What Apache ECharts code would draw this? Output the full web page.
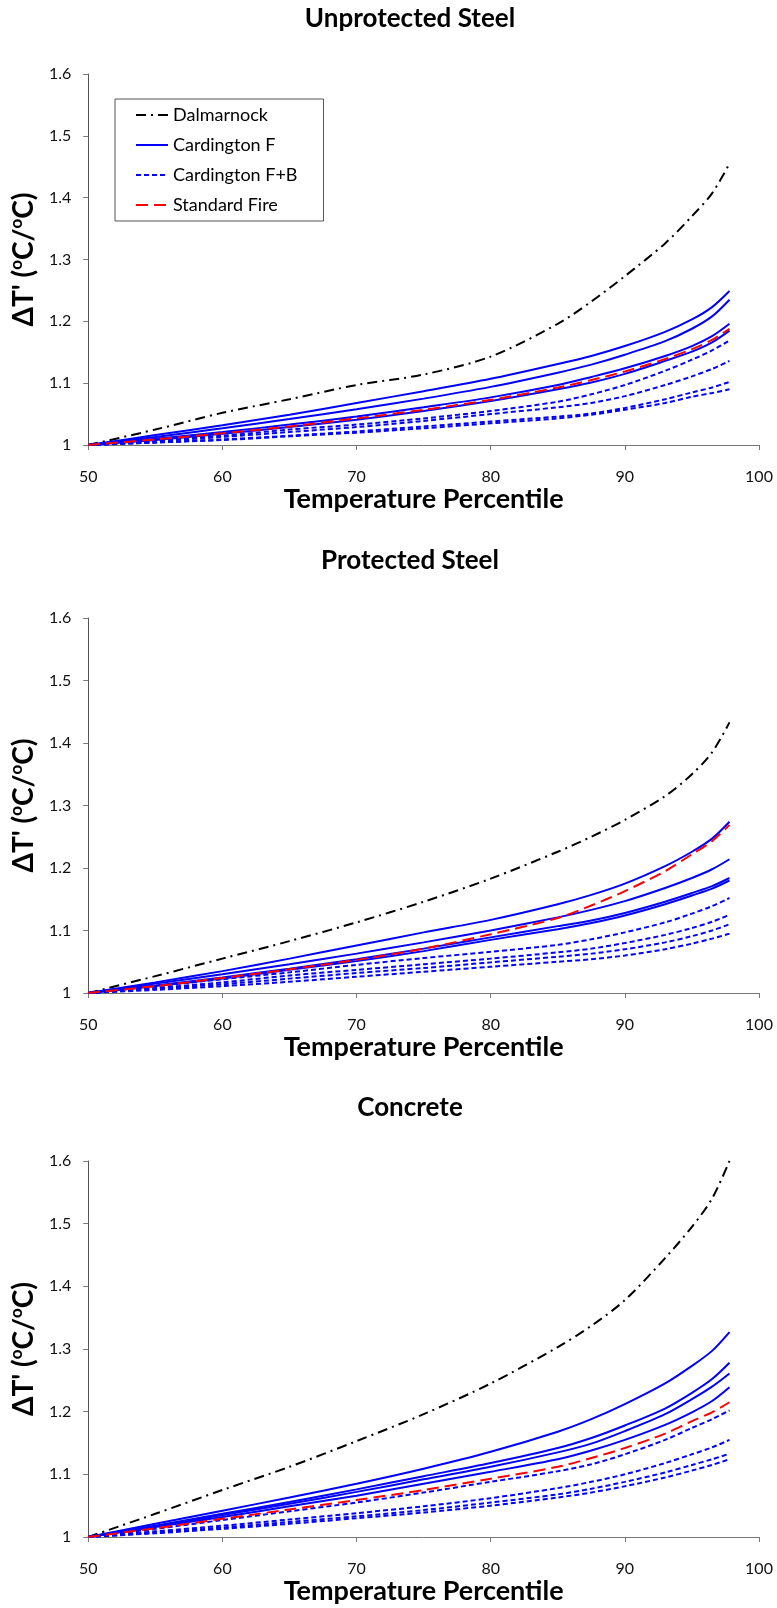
<!DOCTYPE html>
<html>
<head>
<meta charset="utf-8">
<script src="https://cdn.jsdelivr.net/npm/echarts@6/dist/echarts.min.js"></script>
<style>
html, body { margin: 0; padding: 0; background: #fff; }
#chart { width: 777px; height: 1608px; }
</style>
</head>
<body>
<div id="chart"></div>
<script>
// percentile positions shared by every curve
const xPct = [50, 55, 60, 65, 70, 75, 80, 85, 87.5, 90, 93, 95, 96.5, 97.8];

// Unprotected steel
const us_dal = [1, 1.025, 1.052, 1.074, 1.097, 1.114, 1.143, 1.196, 1.232, 1.273, 1.326, 1.370, 1.407, 1.455];
const us_cf1 = [1, 1.016, 1.032, 1.049, 1.068, 1.087, 1.107, 1.131, 1.144, 1.160, 1.183, 1.203, 1.223, 1.249];
const us_cf2 = [1, 1.013, 1.027, 1.042, 1.058, 1.075, 1.094, 1.117, 1.130, 1.146, 1.168, 1.188, 1.208, 1.235];
const us_cf3 = [1, 1.010, 1.021, 1.033, 1.046, 1.061, 1.077, 1.097, 1.110, 1.124, 1.144, 1.160, 1.176, 1.196];
const us_cf4 = [1, 1.008, 1.018, 1.029, 1.041, 1.055, 1.071, 1.090, 1.101, 1.115, 1.136, 1.151, 1.166, 1.185];
const us_fb1 = [1, 1.007, 1.015, 1.025, 1.033, 1.043, 1.055, 1.070, 1.082, 1.097, 1.120, 1.138, 1.153, 1.169];
const us_fb2 = [1, 1.006, 1.013, 1.021, 1.029, 1.039, 1.050, 1.061, 1.068, 1.079, 1.097, 1.111, 1.123, 1.136];
const us_fb3 = [1, 1.004, 1.009, 1.015, 1.022, 1.030, 1.038, 1.046, 1.051, 1.060, 1.074, 1.085, 1.093, 1.102];
const us_fb4 = [1, 1.004, 1.008, 1.014, 1.020, 1.027, 1.035, 1.043, 1.049, 1.057, 1.068, 1.078, 1.084, 1.090];
const us_std = [1, 1.009, 1.019, 1.030, 1.043, 1.057, 1.073, 1.093, 1.105, 1.119, 1.139, 1.155, 1.170, 1.188];

// Protected steel
const ps_dal = [1, 1.027, 1.055, 1.083, 1.113, 1.146, 1.183, 1.226, 1.250, 1.277, 1.315, 1.350, 1.385, 1.433];
const ps_cf1 = [1, 1.017, 1.035, 1.055, 1.076, 1.097, 1.117, 1.142, 1.157, 1.175, 1.203, 1.226, 1.247, 1.274];
const ps_cf2 = [1, 1.015, 1.030, 1.046, 1.063, 1.081, 1.100, 1.121, 1.133, 1.147, 1.168, 1.184, 1.198, 1.214];
const ps_cf3 = [1, 1.012, 1.025, 1.039, 1.054, 1.071, 1.089, 1.107, 1.116, 1.128, 1.146, 1.160, 1.171, 1.184];
const ps_cf4 = [1, 1.011, 1.023, 1.037, 1.051, 1.067, 1.085, 1.102, 1.112, 1.124, 1.142, 1.156, 1.167, 1.180];
const ps_fb1 = [1, 1.011, 1.022, 1.033, 1.045, 1.056, 1.066, 1.077, 1.086, 1.097, 1.113, 1.127, 1.139, 1.152];
const ps_fb2 = [1, 1.008, 1.017, 1.028, 1.037, 1.046, 1.055, 1.065, 1.071, 1.080, 1.093, 1.104, 1.114, 1.125];
const ps_fb3 = [1, 1.007, 1.014, 1.023, 1.032, 1.040, 1.049, 1.058, 1.063, 1.070, 1.081, 1.091, 1.100, 1.110];
const ps_fb4 = [1, 1.005, 1.011, 1.018, 1.026, 1.034, 1.042, 1.050, 1.054, 1.060, 1.070, 1.079, 1.087, 1.095];
const ps_std = [1, 1.011, 1.024, 1.038, 1.053, 1.071, 1.094, 1.120, 1.140, 1.163, 1.195, 1.222, 1.243, 1.269];

// Concrete
const co_dal = [1, 1.037, 1.075, 1.112, 1.153, 1.196, 1.245, 1.303, 1.337, 1.378, 1.445, 1.495, 1.540, 1.600];
const co_cf1 = [1, 1.021, 1.042, 1.063, 1.085, 1.109, 1.136, 1.168, 1.188, 1.212, 1.245, 1.273, 1.297, 1.327];
const co_cf2 = [1, 1.018, 1.037, 1.056, 1.076, 1.097, 1.118, 1.142, 1.158, 1.178, 1.205, 1.230, 1.252, 1.278];
const co_cf3 = [1, 1.017, 1.035, 1.053, 1.072, 1.092, 1.112, 1.135, 1.149, 1.169, 1.196, 1.220, 1.240, 1.261];
const co_cf4 = [1, 1.016, 1.032, 1.049, 1.066, 1.085, 1.104, 1.124, 1.138, 1.155, 1.179, 1.199, 1.217, 1.239];
const co_fb1 = [1, 1.013, 1.027, 1.041, 1.055, 1.071, 1.088, 1.105, 1.116, 1.132, 1.155, 1.174, 1.188, 1.202];
const co_fb2 = [1, 1.009, 1.018, 1.028, 1.038, 1.049, 1.062, 1.078, 1.088, 1.100, 1.118, 1.132, 1.143, 1.155];
const co_fb3 = [1, 1.007, 1.015, 1.024, 1.033, 1.043, 1.055, 1.068, 1.077, 1.088, 1.103, 1.115, 1.124, 1.133];
const co_fb4 = [1, 1.006, 1.013, 1.021, 1.030, 1.039, 1.050, 1.063, 1.071, 1.081, 1.095, 1.106, 1.115, 1.124];
const co_std = [1, 1.014, 1.029, 1.044, 1.059, 1.075, 1.093, 1.112, 1.126, 1.142, 1.165, 1.185, 1.199, 1.215];

const chartTitles = ['Unprotected Steel', 'Protected Steel', 'Concrete'];
const legendNames = ['Dalmarnock', 'Cardington F', 'Cardington F+B', 'Standard Fire'];

const fam = 'Lato, "Open Sans", sans-serif';
const gridTops = [74, 618, 1161];
const gridHeights = [371, 375, 376];
const titleY = [19, 561, 1108];

function pts(arr) {
  return xPct.map((x, k) => [x, arr[k]]);
}

function line(idx, name, arr, color, type) {
  return {
    type: 'line',
    name: name,
    xAxisIndex: idx,
    yAxisIndex: idx,
    data: pts(arr),
    symbol: 'none',
    smooth: 0.3,
    lineStyle: { color: color, width: 2, type: type },
    itemStyle: { color: color },
  };
}

function group(idx, dal, cfs, fbs, std) {
  const out = [line(idx, legendNames[0], dal, '#000000', [10, 5, 2, 5])];
  cfs.forEach(a => out.push(line(idx, legendNames[1], a, '#0000ff', 'solid')));
  fbs.forEach(a => out.push(line(idx, legendNames[2], a, '#0000ff', [5, 3])));
  out.push(line(idx, legendNames[3], std, '#ff0000', [12, 6]));
  return out;
}

const series = [].concat(
  group(0, us_dal, [us_cf1, us_cf2, us_cf3, us_cf4], [us_fb1, us_fb2, us_fb3, us_fb4], us_std),
  group(1, ps_dal, [ps_cf1, ps_cf2, ps_cf3, ps_cf4], [ps_fb1, ps_fb2, ps_fb3, ps_fb4], ps_std),
  group(2, co_dal, [co_cf1, co_cf2, co_cf3, co_cf4], [co_fb1, co_fb2, co_fb3, co_fb4], co_std)
);

const grids = [], xAxes = [], yAxes = [];
[0, 1, 2].forEach(i => {
  grids.push({ left: 80, width: 679, top: gridTops[i], height: gridHeights[i] });
  xAxes.push({
    gridIndex: i,
    type: 'value',
    min: 50,
    max: 100,
    interval: 10,
    name: 'Temperature Percentile',
    nameLocation: 'middle',
    nameGap: 40,
    nameTextStyle: { fontSize: 27, fontWeight: 'bold', fontFamily: fam, color: '#000' },
    axisLine: { lineStyle: { color: '#777' } },
    axisTick: { length: 5, lineStyle: { color: '#777' } },
    axisLabel: { margin: 24, fontSize: 16, fontFamily: fam, color: '#111' },
    splitLine: { show: false },
  });
  yAxes.push({
    gridIndex: i,
    type: 'value',
    min: 1,
    max: 1.6,
    interval: 0.1,
    name: "{a|ΔT' (}{s|o}{a|C/}{s|o}{a|C)}",
    nameLocation: 'middle',
    nameGap: 40,
    nameTextStyle: {
      rich: {
        a: { fontSize: 28, fontWeight: 'bold', fontFamily: fam, color: '#000', lineHeight: 32 },
        s: { fontSize: 17, fontWeight: 'bold', fontFamily: fam, color: '#000', lineHeight: 18, verticalAlign: 'top' },
      },
    },
    axisLine: { show: true, lineStyle: { color: '#555' } },
    axisTick: { show: true, length: 5, lineStyle: { color: '#777' } },
    axisLabel: {
      margin: 17,
      fontSize: 16,
      fontFamily: fam,
      color: '#111',
      formatter: v => String(Math.round(v * 10) / 10),
    },
    splitLine: { show: false },
  });
});

const titles = chartTitles.map((t, i) => ({
  type: 'text',
  x: 410,
  y: titleY[i],
  style: {
    text: t,
    fontSize: 26,
    fontWeight: 'bold',
    fontFamily: fam,
    fill: '#000',
    align: 'center',
    verticalAlign: 'middle',
  },
}));

const chart = echarts.init(document.getElementById('chart'));
chart.setOption({
  animation: false,
  backgroundColor: '#fff',
  graphic: titles,
  legend: {
    data: legendNames,
    orient: 'vertical',
    left: 115,
    top: 99,
    itemWidth: 32,
    itemHeight: 14,
    itemGap: 12,
    padding: [7, 26, 7, 20],
    borderColor: '#555',
    borderWidth: 1,
    selectedMode: false,
    itemStyle: { color: 'rgba(0,0,0,0)', borderColor: 'rgba(0,0,0,0)', borderWidth: 0 },
    textStyle: { fontSize: 18, fontFamily: fam, color: '#000', lineHeight: 18 },
  },
  grid: grids,
  xAxis: xAxes,
  yAxis: yAxes,
  series: series,
});
</script>
</body>
</html>
